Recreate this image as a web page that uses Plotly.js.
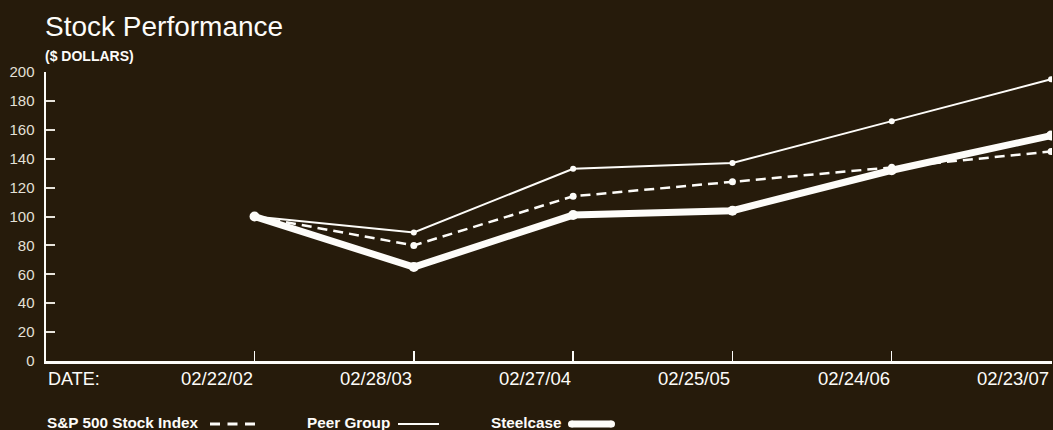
<!DOCTYPE html>
<html>
<head>
<meta charset="utf-8">
<script src="https://cdn.plot.ly/plotly-3.0.1.min.js"></script>
<style>html,body{margin:0;padding:0;background:#261b0b;}#chart{width:1053px;height:430px;}</style>
</head>
<body>
<div id="chart"></div>
<script>
// ---- data ----
const dates = ['02/22/02', '02/28/03', '02/27/04', '02/25/05', '02/24/06', '02/23/07'];
const sp500 = [100, 80, 114, 124, 134, 145];
const peerGroup = [100, 89, 133, 137, 166, 195];
const steelcase = [100, 65, 101, 104, 132, 156];
const yTicks = [0, 20, 40, 60, 80, 100, 120, 140, 160, 180, 200];
const seriesNames = ['S&amp;P 500 Stock Index', 'Peer Group', 'Steelcase'];

// ---- layout helpers (pixels -> paper) ----
const W = 1053, H = 430, ML = 46, MR = 1, MT = 72, MB = 69;
const PW = W - ML - MR, PH = H - MT - MB;
const px = v => (v - ML) / PW;
const py = v => (H - MB - v) / PH;

const BG = '#261b0b';
const FG = '#fdfcf9';
const FONT = 'Liberation Sans, Arial, Helvetica, sans-serif';

const traces = [
  {x: dates, y: sp500, type: 'scatter', mode: 'lines+markers', name: 'S&P 500 Stock Index',
   line: {color: FG, width: 2.5, dash: '10px,6px'}, marker: {color: FG, size: 7}},
  {x: dates, y: peerGroup, type: 'scatter', mode: 'lines+markers', name: 'Peer Group',
   line: {color: FG, width: 2}, marker: {color: FG, size: 6}},
  {x: dates, y: steelcase, type: 'scatter', mode: 'lines+markers', name: 'Steelcase',
   line: {color: FG, width: 7}, marker: {color: FG, size: 10}}
];

const annotations = [];
// title + unit
annotations.push({text: 'Stock Performance', xref: 'paper', yref: 'paper', x: px(43), y: py(26),
  xanchor: 'left', yanchor: 'middle', showarrow: false, font: {family: FONT, size: 28, color: FG}});
annotations.push({text: '<b>($ DOLLARS)</b>', xref: 'paper', yref: 'paper', x: px(43), y: py(56),
  xanchor: 'left', yanchor: 'middle', showarrow: false, font: {family: FONT, size: 14, color: FG}});
// x labels
annotations.push({text: 'DATE:', xref: 'paper', yref: 'paper', x: 0, y: py(378.5),
  xanchor: 'left', yanchor: 'middle', showarrow: false, font: {family: FONT, size: 18, color: FG}});
dates.forEach(d => annotations.push({text: d, xref: 'x', yref: 'paper', x: d, y: py(378.5),
  xanchor: 'right', yanchor: 'middle', showarrow: false, font: {family: FONT, size: 18.5, color: FG}}));
// legend labels
const legX = [45, 305, 489];
seriesNames.forEach((n, i) => annotations.push({text: '<b>' + n + '</b>', xref: 'paper', yref: 'paper',
  x: px(legX[i]), y: py(422.5), xanchor: 'left', yanchor: 'middle', showarrow: false,
  font: {family: FONT, size: 15.3, color: FG}}));

const ly = py(424);
const shapes = [
  {type: 'line', xref: 'paper', yref: 'paper', x0: px(210), x1: px(255), y0: ly, y1: ly,
   line: {color: FG, width: 3, dash: '10px,7.5px'}},
  {type: 'line', xref: 'paper', yref: 'paper', x0: px(398), x1: px(439), y0: ly, y1: ly,
   line: {color: FG, width: 2}},
  {type: 'rect', xref: 'paper', yref: 'paper', x0: px(571.5), x1: px(611.5), y0: py(427.5), y1: py(420.5),
   fillcolor: FG, line: {width: 0}},
  {type: 'circle', xref: 'paper', yref: 'paper', x0: px(568), x1: px(575), y0: py(427.5), y1: py(420.5),
   fillcolor: FG, line: {width: 0}},
  {type: 'circle', xref: 'paper', yref: 'paper', x0: px(608), x1: px(615), y0: py(427.5), y1: py(420.5),
   fillcolor: FG, line: {width: 0}}
];

const layout = {
  width: W, height: H,
  margin: {l: ML, r: MR, t: MT, b: MB, pad: 0},
  paper_bgcolor: BG, plot_bgcolor: BG,
  showlegend: false,
  font: {family: FONT, color: FG},
  xaxis: {type: 'category', range: [-1.309, 5.006], showgrid: false, zeroline: false,
    showline: true, linecolor: FG, linewidth: 2.5, ticks: 'inside', ticklen: 10, tickwidth: 1.5,
    tickcolor: FG, showticklabels: false, fixedrange: true},
  yaxis: {range: [0, 200], tickvals: yTicks, showgrid: false, zeroline: false,
    showline: true, linecolor: FG, linewidth: 2.5, ticks: 'inside', ticklen: 9, tickwidth: 2,
    tickcolor: '#e8e4dc', ticklabelstandoff: 6,
    tickfont: {family: FONT, size: 15, color: '#e4e0d8'}, fixedrange: true},
  annotations: annotations,
  shapes: shapes
};

Plotly.newPlot('chart', traces, layout, {staticPlot: true, displayModeBar: false});
</script>
</body>
</html>
